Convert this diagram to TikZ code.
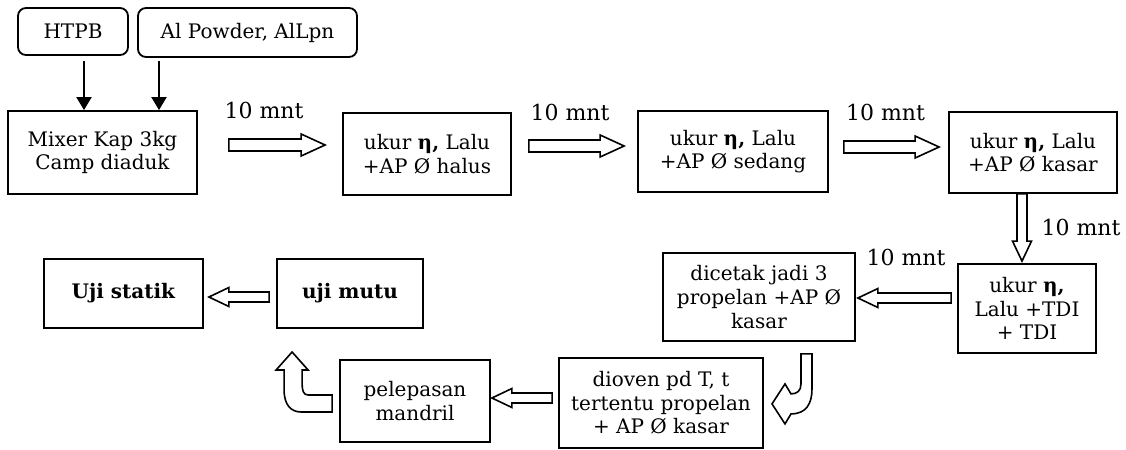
\documentclass[tikz,border=0pt]{standalone}
\usepackage{fontspec}
\setmainfont{DejaVu Serif}
\usetikzlibrary{calc,positioning,arrows.meta}

\begin{document}
\begin{tikzpicture}[x=0.5pt,y=-0.5pt,
   font=\fontsize{10}{11.8}\selectfont,
   box/.style 2 args={draw,line width=0.9pt,align=center,inner sep=0pt,
      minimum width=#1,minimum height=#2},
   rbox/.style 2 args={box={#1}{#2},rounded corners=4pt},
   lbl/.style={font=\fontsize{11}{13}\selectfont,inner sep=0pt},
   thinarr/.style={line width=1pt,-{Triangle[width=7.5pt,length=6.5pt]}},
   ar shaft/.store in=\arshaft, ar head/.store in=\arhead, ar len/.store in=\arlen,
   ar shaft=6pt, ar head=11pt, ar len=12pt,
   hollow/.style={draw,line width=0.8pt,to path={
     let \p1=(\tikztostart),\p2=(\tikztotarget),
         \n1={atan2(\y2-\y1,\x2-\x1)},\n2={veclen(\x2-\x1,\y2-\y1)} in
     {[shift={(\p1)},rotate=\n1]
      (0pt,-0.5*\arshaft) -- (\n2-\arlen,-0.5*\arshaft) -- (\n2-\arlen,-0.5*\arhead)
      -- (\n2+0pt,0pt) -- (\n2-\arlen,0.5*\arhead) -- (\n2-\arlen,0.5*\arshaft)
      -- (0pt,0.5*\arshaft) -- cycle}}},
   hollow small/.style={hollow,ar shaft=5pt,ar head=9.5pt,ar len=10pt},
   bent/.style={draw,line width=0.8pt}]
 \useasboundingbox (0,0) rectangle (1126,450);

 % bahan
 \node[rbox={55pt}{23.5pt}] (htpb) at (73,31.5) {HTPB};
 \node[rbox={109.5pt}{24.5pt}] (alpow) at (247.5,32.5) {Al Powder, AlLpn};

 % baris atas
 \node[box={94.5pt}{41.5pt}] (mixer) at (102.5,152.5) {Mixer Kap 3kg\\Camp diaduk};
 \node[box={84pt}{41pt}] (halus) at (427,154) {ukur \textbf{η,} Lalu\\+AP Ø halus};
 \node[box={95pt}{40.5pt}] (sedang) at (733,151.5) {ukur \textbf{η,} Lalu\\+AP Ø sedang};
 \node[box={84pt}{40.5pt}] (kasar) at (1033,152.5) {ukur \textbf{η,} Lalu\\+AP Ø kasar};

 % baris tengah
 \node[box={69pt}{44.5pt}] (tdi) at (1027,308.5) {ukur \textbf{η,}\\Lalu +TDI\\+ TDI};
 \node[box={96pt}{44pt}] (cetak) at (759,297) {dicetak jadi 3\\propelan +AP Ø\\kasar};
 \node[box={73pt}{34.5pt}] (mutu) at (350,293.5) {\textbf{uji mutu}};
 \node[box={79.5pt}{34.5pt}] (statik) at (123.5,293.5) {\textbf{Uji statik}};

 % baris bawah
 \node[box={102pt}{45pt}] (oven) at (661,403) {dioven pd T, t\\tertentu propelan\\+ AP Ø kasar};
 \node[box={75pt}{41pt}] (lepas) at (415,401) {pelepasan\\mandril};

 % waktu
 \node[lbl] (t1) at (264,110.5) {10 mnt};
 \node[lbl] (t2) at (570,112) {10 mnt};
 \node[lbl] (t3) at (885.5,112) {10 mnt};
 \node[lbl] (t4) at (1081,227) {10 mnt};
 \node[lbl] (t5) at (906,257) {10 mnt};

 \draw[thinarr] ([shift={(11,5)}]htpb.south) coordinate (h1) -- (h1 |- mixer.north);
 \draw[thinarr] ([shift={(-88.5,3)}]alpow.south) coordinate (a1) -- (a1 |- mixer.north);

 \draw[hollow] ([shift={(31,-7.5)}]mixer.east) to ([shift={(-17,-9)}]halus.west);
 \draw[hollow] ([shift={(17,-8)}]halus.east) to ([shift={(-13,-5.5)}]sedang.west);
 \draw[hollow] ([shift={(15,-4.5)}]sedang.east) to ([shift={(-9,-5.5)}]kasar.west);
 \draw[hollow small] ([shift={(-11,0)}]kasar.south) to ([shift={(-5,-2)}]tdi.north);
 \draw[hollow small] ([shift={(-6,-10.5)}]tdi.west) to ([shift={(2,1)}]cetak.east);
 \draw[hollow small] ([shift={(-6,-5)}]oven.west) to ([shift={(1,-3)}]lepas.east);
 \draw[hollow small] ([shift={(-7,3.5)}]mutu.west) to ([shift={(5,3.5)}]statik.east);

 % panah lengkung
 \draw[bent,shift={(cetak.south)}] (42,12) -- (42,42) .. controls (42,49) and (38,52) .. (32,52)
   -- (26,42) -- (13,62) -- (26,82) -- (32,72) .. controls (47,72) and (53,62) .. (53,47)
   -- (53,12) -- cycle;
 \draw[bent,shift={(lepas.west)}] (-7,-6) -- (-31,-6) .. controls (-36,-6) and (-37,-11) .. (-37,-18)
   -- (-37,-31) -- (-31,-31) -- (-47,-49) -- (-63,-31) -- (-55,-31) -- (-55,-11)
   .. controls (-55,4) and (-48,11) .. (-38,11) -- (-7,11) -- cycle;
\end{tikzpicture}
\end{document}
